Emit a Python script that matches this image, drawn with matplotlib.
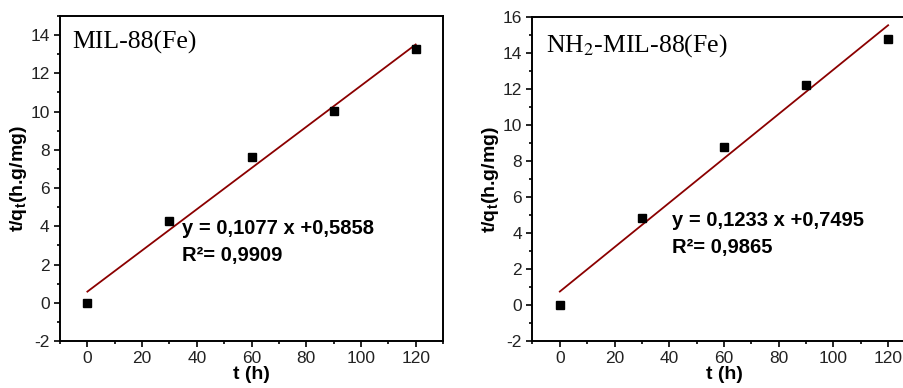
import matplotlib.pyplot as plt
import numpy as np
from matplotlib.ticker import MultipleLocator

plt.rcParams['font.family'] = ['Liberation Sans', 'DejaVu Sans']
plt.rcParams['axes.unicode_minus'] = False
plt.rcParams['mathtext.fontset'] = 'custom'
plt.rcParams['mathtext.rm'] = 'Liberation Sans'
plt.rcParams['mathtext.bf'] = 'Liberation Sans:bold'

# data
t = [0, 30, 60, 90, 120]
y_mil = [0.0, 4.3, 7.6, 10.05, 13.25]
y_nh2 = [0.0, 4.85, 8.8, 12.25, 14.8]

fit_mil = (0.1077, 0.5858)
fit_nh2 = (0.1233, 0.7495)

titles = ['MIL-88(Fe)', 'NH$_2$-MIL-88(Fe)']
eq1 = ['y = 0,1077 x +0,5858', 'y = 0,1233 x +0,7495']
eq2 = ['R\u00b2= 0,9909', 'R\u00b2= 0,9865']


def panel(ax, y, fit, title, e1, e2, ylim, title_xy, eq_xy):
    xx = np.array([t[0], t[-1]])
    ax.plot(xx, fit[0] * xx + fit[1], color='#8b0000', lw=1.3, zorder=2)
    ax.plot(t, y, 's', color='black', ms=5.3, zorder=3)
    ax.set_xlim(-10, 130)
    ax.set_ylim(*ylim)
    ax.xaxis.set_major_locator(MultipleLocator(20))
    ax.xaxis.set_minor_locator(MultipleLocator(10))
    ax.yaxis.set_major_locator(MultipleLocator(2))
    ax.yaxis.set_minor_locator(MultipleLocator(1))
    ax.tick_params(which='both', direction='out', labelsize=12.5, width=1.2,
                   labelcolor='#222222')
    ax.tick_params(which='major', length=4)
    ax.tick_params(which='minor', length=2.5)
    for s in ax.spines.values():
        s.set_linewidth(1.4)
    ax.set_xlabel('t (h)', fontsize=14, fontweight='bold', labelpad=0)
    ax.set_ylabel('t/q$_\\mathbf{t}$(h.g/mg)', fontsize=14, fontweight='bold', labelpad=1)
    ax.text(title_xy[0], title_xy[1], title, fontsize=18.5, family='Liberation Serif',
            math_fontfamily='stix', va='center', ha='left')
    ax.text(eq_xy[0], eq_xy[1], e1, fontsize=14.5, fontweight='bold',
            va='center', ha='left')
    ax.text(eq_xy[0], eq_xy[2], e2, fontsize=14.5, fontweight='bold',
            va='center', ha='left')


fig = plt.figure(figsize=(9.04, 3.88), dpi=100)
ax1 = fig.add_axes([0.0664, 0.121, 0.4237, 0.8378])
ax2 = fig.add_axes([0.589, 0.121, 0.4237, 0.835])

panel(ax1, y_mil, fit_mil, titles[0], eq1[0], eq2[0], (-2, 15), (-5.5, 13.6), (34.7, 3.86, 2.5))
panel(ax2, y_nh2, fit_nh2, titles[1], eq1[1], eq2[1], (-2, 16), (-4.9, 14.4), (41.1, 4.67, 3.22))

fig.savefig('out.png', dpi=100)
